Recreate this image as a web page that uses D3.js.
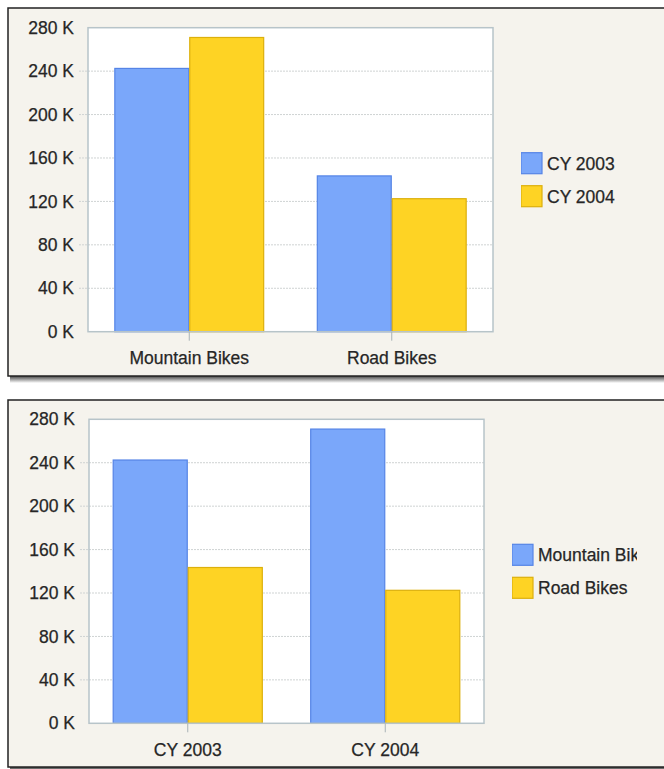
<!DOCTYPE html>
<html>
<head>
<meta charset="utf-8">
<script src="https://cdn.jsdelivr.net/npm/d3@7"></script>
<style>
  body { margin: 0; background: #fff; }
  svg text { font-family: "Liberation Sans", Arial, sans-serif; fill: #262626; stroke: #262626; stroke-width: 0.25px; }
</style>
</head>
<body>
<div id="chart"></div>
<script>
// values
const products = ["Mountain Bikes", "Road Bikes"];
const years = ["CY 2003", "CY 2004"];
const mountainBikes = [242500, 271000]; // CY 2003, CY 2004
const roadBikes = [143500, 122500];
const yTicks = [0, 40000, 80000, 120000, 160000, 200000, 240000, 280000];

const fills = ["#7aa7fa", "#fed324"];
const strokes = ["#5584e6", "#dcb00c"];

const width = 664, height = 769;

const svg = d3.select("#chart")
    .append("svg")
    .attr("width", width)
    .attr("height", height);

const defs = svg.append("defs");
const grad = defs.append("linearGradient")
    .attr("id", "shadow")
    .attr("x1", 0).attr("y1", 0).attr("x2", 0).attr("y2", 1);
grad.append("stop").attr("offset", "0%").attr("stop-color", "#444");
grad.append("stop").attr("offset", "100%").attr("stop-color", "#fff");

function drawPanel(cfg) {
    const { id, panelTop, panelBottom, plot, groups, series, values, padding } = cfg;

    // shadow + frame
    svg.append("rect")
        .attr("x", 10).attr("y", panelBottom)
        .attr("width", width).attr("height", 7)
        .attr("fill", "url(#shadow)");
    svg.append("rect")
        .attr("x", 8).attr("y", panelTop)
        .attr("width", width).attr("height", panelBottom - panelTop)
        .attr("fill", "#f5f3ed")
        .attr("stroke", "#222")
        .attr("stroke-width", 1.5);

    const x0 = d3.scaleBand()
        .domain(groups)
        .range([plot.left, plot.right])
        .paddingInner(padding)
        .paddingOuter(padding / 2);
    const x1 = d3.scaleBand()
        .domain(series)
        .range([0, x0.bandwidth()]);
    const y = d3.scaleLinear()
        .domain([0, 280000])
        .range([plot.bottom, plot.top]);

    const g = svg.append("g");

    g.append("rect")
        .attr("x", plot.left).attr("y", plot.top)
        .attr("width", plot.right - plot.left)
        .attr("height", plot.bottom - plot.top)
        .attr("fill", "#fff");

    // dotted gridlines, running out past the left edge as ticks
    g.selectAll(".grid")
        .data(yTicks.filter(t => t > 0 && t < 280000))
        .enter()
        .append("line")
        .attr("x1", plot.left - 9)
        .attr("x2", plot.right)
        .attr("y1", d => y(d))
        .attr("y2", d => y(d))
        .attr("stroke", "#cfd3d3")
        .attr("stroke-width", 1)
        .attr("stroke-dasharray", "2,1");

    // bars
    const grp = g.selectAll(".grp")
        .data(groups)
        .enter()
        .append("g")
        .attr("transform", d => `translate(${x0(d)},0)`);

    grp.selectAll("rect")
        .data((d, i) => series.map((s, j) => ({ s, j, v: values(i, j) })))
        .enter()
        .append("rect")
        .attr("x", d => x1(d.s) + 0.5)
        .attr("y", d => y(d.v))
        .attr("width", x1.bandwidth() - 1)
        .attr("height", d => plot.bottom - y(d.v))
        .attr("fill", d => fills[d.j])
        .attr("stroke", d => strokes[d.j])
        .attr("stroke-width", 1.2);

    g.append("rect")
        .attr("x", plot.left).attr("y", plot.top)
        .attr("width", plot.right - plot.left)
        .attr("height", plot.bottom - plot.top)
        .attr("fill", "none")
        .attr("stroke", "#b7c4c9")
        .attr("stroke-width", 1.5);

    // y axis labels
    const yAxis = d3.axisLeft(y)
        .tickValues(yTicks)
        .tickSize(0)
        .tickPadding(0)
        .tickFormat(d => `${d / 1000} K`);
    const ya = g.append("g")
        .attr("transform", `translate(${plot.left - 14},0)`)
        .call(yAxis);
    ya.select(".domain").remove();
    ya.selectAll("text")
        .style("font-size", "17.5px");

    // x axis
    const xAxis = d3.axisBottom(x0)
        .tickSize(9)
        .tickPadding(11);
    const xa = g.append("g")
        .attr("transform", `translate(0,${plot.bottom})`)
        .call(xAxis);
    xa.select(".domain").remove();
    xa.selectAll(".tick line")
        .attr("stroke", "#a8b2b6");
    xa.selectAll("text")
        .style("font-size", "17.5px");

    // legend, clipped like the original
    const lx = plot.right + 28;
    const lcy = (plot.top + plot.bottom) / 2;
    defs.append("clipPath")
        .attr("id", `clip-${id}`)
        .append("rect")
        .attr("x", lx).attr("y", lcy - 40)
        .attr("width", 125).attr("height", 80);
    const leg = svg.append("g")
        .attr("clip-path", `url(#clip-${id})`);
    const items = leg.selectAll(".item")
        .data(series)
        .enter()
        .append("g")
        .attr("transform", (d, i) => `translate(${lx},${lcy - 27 + i * 33})`);
    items.append("rect")
        .attr("width", 21).attr("height", 21)
        .attr("fill", (d, i) => fills[i])
        .attr("stroke", (d, i) => strokes[i])
        .attr("stroke-width", 1.2);
    items.append("text")
        .attr("x", 26)
        .attr("y", 11)
        .attr("dy", "0.35em")
        .style("font-size", "17.5px")
        .text(d => d);
}

// by product, one bar per year
drawPanel({
    id: "top",
    panelTop: 8,
    panelBottom: 376,
    plot: { left: 88, right: 493, top: 27.7, bottom: 331.7 },
    groups: products,
    series: years,
    values: (i, j) => (i === 0 ? mountainBikes : roadBikes)[j],
    padding: 0.26
});

// by year, one bar per product
drawPanel({
    id: "bottom",
    panelTop: 400,
    panelBottom: 767,
    plot: { left: 89, right: 484, top: 419.3, bottom: 723.3 },
    groups: years,
    series: products,
    values: (i, j) => (j === 0 ? mountainBikes : roadBikes)[i],
    padding: 0.24
});
</script>
</body>
</html>
